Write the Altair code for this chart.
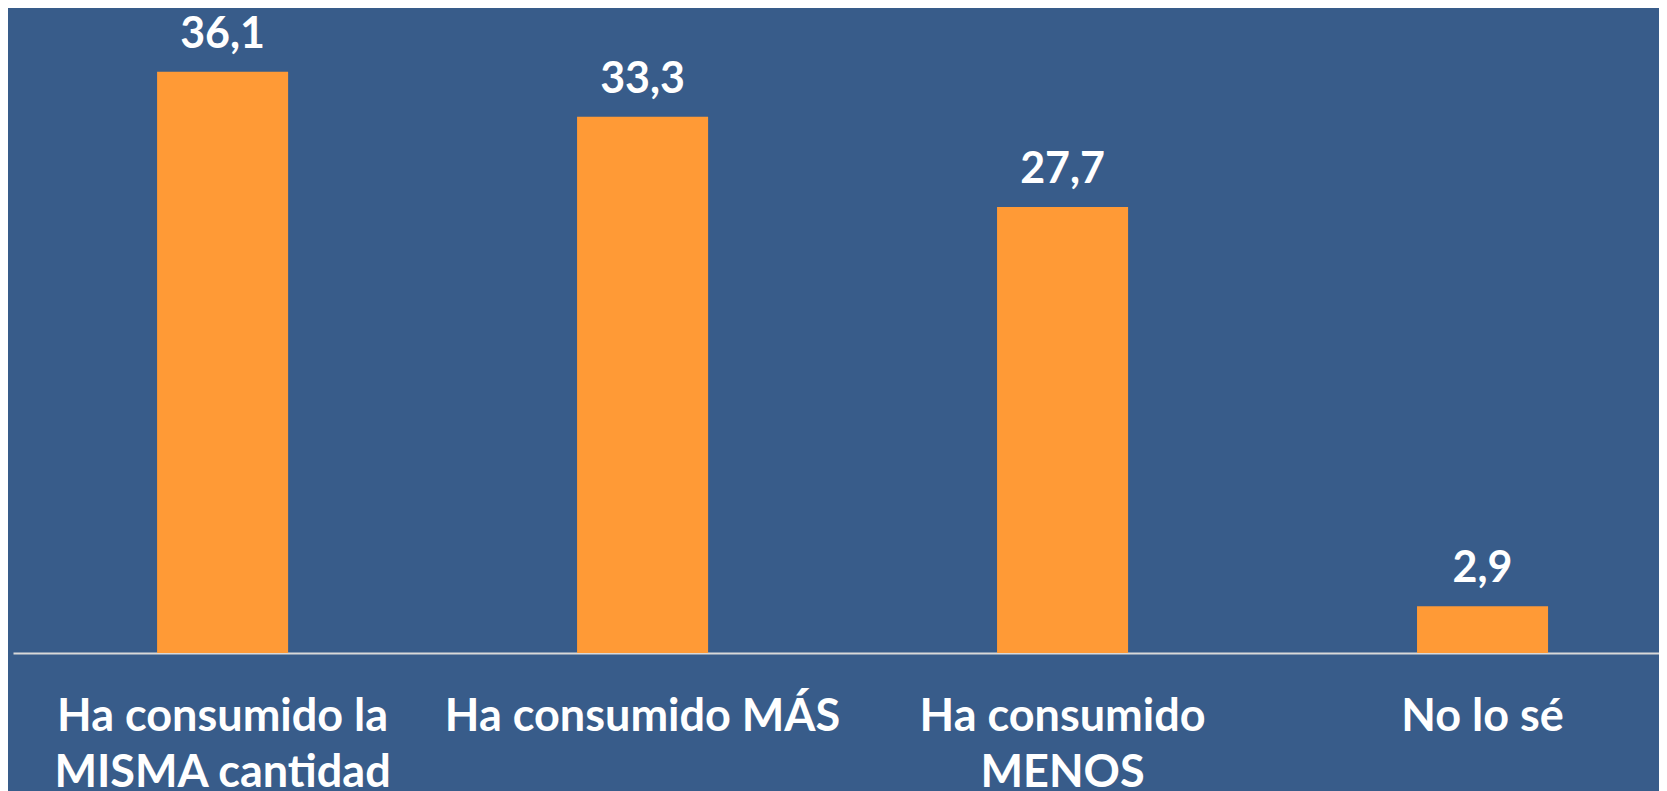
import altair as alt
import pandas as pd

categories = ["Ha consumido la|MISMA cantidad", "Ha consumido MÁS", "Ha consumido|MENOS", "No lo sé"]
values = [36.1, 33.3, 27.7, 2.9]

df = pd.DataFrame({"cat": categories, "v": values})

BG = "#385C8A"
BAR = "#FF9A36"
FONT = "Lato"

x = alt.X(
    "cat:N",
    sort=categories,
    scale=alt.Scale(paddingInner=0.688, paddingOuter=0.3036, align=0.565),
    axis=alt.Axis(
        title=None,
        labelExpr="split(datum.label, '|')",
        labelAngle=0,
        labelFont=FONT,
        labelFontSize=45,
        labelFontWeight="bold",
        labelColor="white",
        labelPadding=41,
        labelLineHeight=56,
        labelBaseline="top",
        ticks=False,
        domainColor="#D9D9D9",
        domainWidth=2,
        labelLimit=0,
    ),
)
y = alt.Y("v:Q", scale=alt.Scale(domain=[0, 40], nice=False), axis=None)

base = alt.Chart(df).encode(x=x, y=y)
bars = base.mark_bar(color=BAR)
text = base.transform_calculate(
    lab="replace(format(datum.v, '.1f'), '.', ',')"
).mark_text(
    dy=-24, baseline="alphabetic", font=FONT, fontSize=43, fontWeight="bold", color="white"
).encode(text="lab:N")

chart = (
    alt.layer(bars, text)
    .properties(width=1646, height=644, background=BG,
                padding={"left": 5, "top": 1, "right": 0, "bottom": 0},
                autosize=alt.AutoSizeParams(type="pad"))
    .configure_view(stroke=None)
)

chart.save("out.html", embed_options={"renderer": "svg", "actions": False})
